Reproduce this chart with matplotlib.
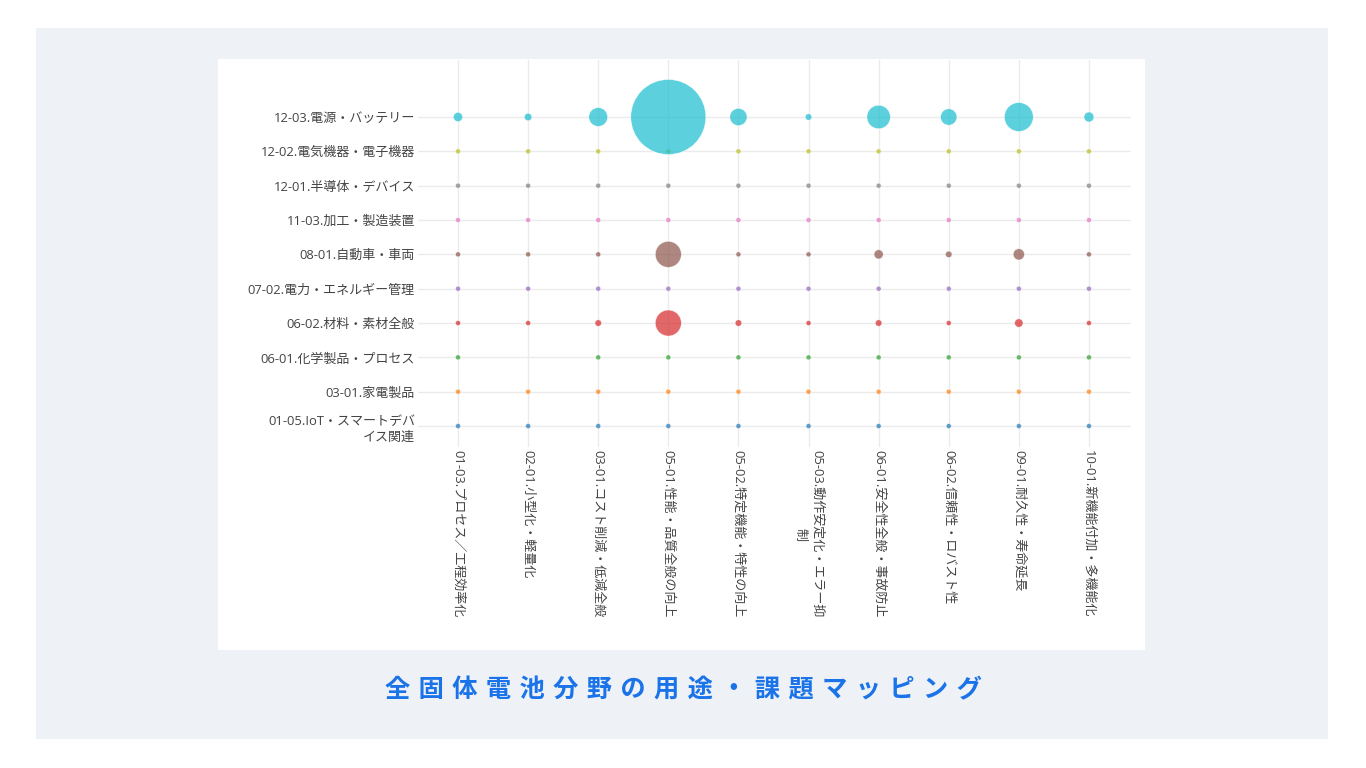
import matplotlib
matplotlib.use("Agg")
import matplotlib.pyplot as plt
from matplotlib.patches import Rectangle
import numpy as np

plt.rcParams['font.family'] = ['Open Sans', 'Noto Sans CJK JP', 'DejaVu Sans']

# ---- data ----
x_categories = [
    '01-03.プロセス／工程効率化',
    '02-01.小型化・軽量化',
    '03-01.コスト削減・低減全般',
    '05-01.性能・品質全般の向上',
    '05-02.特定機能・特性の向上',
    '05-03.動作安定化・エラー抑\n制',
    '06-01.安全性全般・事故防止',
    '06-02.信頼性・ロバスト性',
    '09-01.耐久性・寿命延長',
    '10-01.新機能付加・多機能化',
]
y_categories = [
    '01-05.IoT・スマートデバ\nイス関連',
    '03-01.家電製品',
    '06-01.化学製品・プロセス',
    '06-02.材料・素材全般',
    '07-02.電力・エネルギー管理',
    '08-01.自動車・車両',
    '11-03.加工・製造装置',
    '12-01.半導体・デバイス',
    '12-02.電気機器・電子機器',
    '12-03.電源・バッテリー',
]
counts_0105 = [1, 1, 1, 1, 1, 1, 1, 1, 1, 1]
counts_0301 = [1, 1, 1, 1, 1, 1, 1, 1, 1, 1]
counts_0601 = [1, 0, 1, 1, 1, 1, 1, 1, 1, 1]
counts_0602 = [1, 1, 3, 48, 3, 1, 3, 1, 5, 1]
counts_0702 = [1, 1, 1, 1, 1, 1, 1, 1, 1, 1]
counts_0801 = [1, 1, 1, 48, 1, 1, 6, 3, 9, 1]
counts_1103 = [1, 1, 1, 1, 1, 1, 1, 1, 1, 1]
counts_1201 = [1, 1, 1, 1, 1, 1, 1, 1, 1, 1]
counts_1202 = [1, 1, 1, 1, 1, 1, 1, 1, 1, 1]
counts_1203 = [6, 4, 25, 400, 21, 3, 39, 19, 59, 7]
series = [counts_0105, counts_0301, counts_0601, counts_0602, counts_0702,
          counts_0801, counts_1103, counts_1201, counts_1202, counts_1203]
colors = ['#1f77b4', '#ff7f0e', '#2ca02c', '#d62728', '#9467bd',
          '#8c564b', '#e377c2', '#7f7f7f', '#bcbd22', '#17becf']
title = '全固体電池分野の用途・課題マッピング'

# ---- figure ----
W, H = 1366, 768
fig = plt.figure(figsize=(W / 100, H / 100), dpi=100)
fig.patch.set_facecolor('white')

def px_rect(x0, y0, x1, y1, color):
    fig.patches.append(Rectangle((x0 / W, 1 - y1 / H), (x1 - x0) / W, (y1 - y0) / H,
                                 transform=fig.transFigure, facecolor=color,
                                 edgecolor='none', zorder=-10))

px_rect(36, 28, 1328, 739, '#eef1f6')
px_rect(218, 59, 1145, 650, 'white')

ax_l, ax_r, ax_t, ax_b = 418, 1131, 60, 447
ax = fig.add_axes([ax_l / W, 1 - ax_b / H, (ax_r - ax_l) / W, (ax_b - ax_t) / H])
ax.set_facecolor('none')

max_count = max(max(s) for s in series)
max_diam_px = 75
min_diam_px = 5

for yi, (vals, col) in enumerate(zip(series, colors)):
    vals = np.array(vals, dtype=float)
    mask = vals > 0
    xs = np.arange(len(x_categories))[mask]
    d = np.maximum(min_diam_px, max_diam_px * np.sqrt(vals[mask] / max_count))
    s = (d * 0.72) ** 2
    ax.scatter(xs, np.full(len(xs), yi), s=s, c=col, alpha=0.7,
               edgecolors='white', linewidths=0.4, zorder=3)

ax.set_xlim(-0.571, 9.6)
ax.set_ylim(-0.61, 10.66)
ax.set_xticks(range(len(x_categories)))
ax.set_xticklabels(x_categories, rotation=-90, fontsize=9.4, color='#444444',
                   ha='center', va='top', linespacing=1.4)
ax.set_yticks(range(len(y_categories)))
ax.set_yticklabels(y_categories, fontsize=9.4, color='#444444',
                   multialignment='right', linespacing=1.35)
ax.tick_params(axis='y', length=0, pad=2.2)
ax.tick_params(axis='x', length=0, pad=2.5)
ax.grid(True, color='#ebebeb', linewidth=1, zorder=0)
ax.set_axisbelow(True)
for sp in ax.spines.values():
    sp.set_visible(False)

fig.text(683 / W, 1 - 690 / H, '\u2004'.join(title), ha='center', va='center',
         fontsize=18.2, fontweight='bold', color='#1a73e8',
         family=['Noto Sans CJK JP', 'DejaVu Sans'])

fig.savefig('out.png', dpi=100, facecolor=fig.get_facecolor())
